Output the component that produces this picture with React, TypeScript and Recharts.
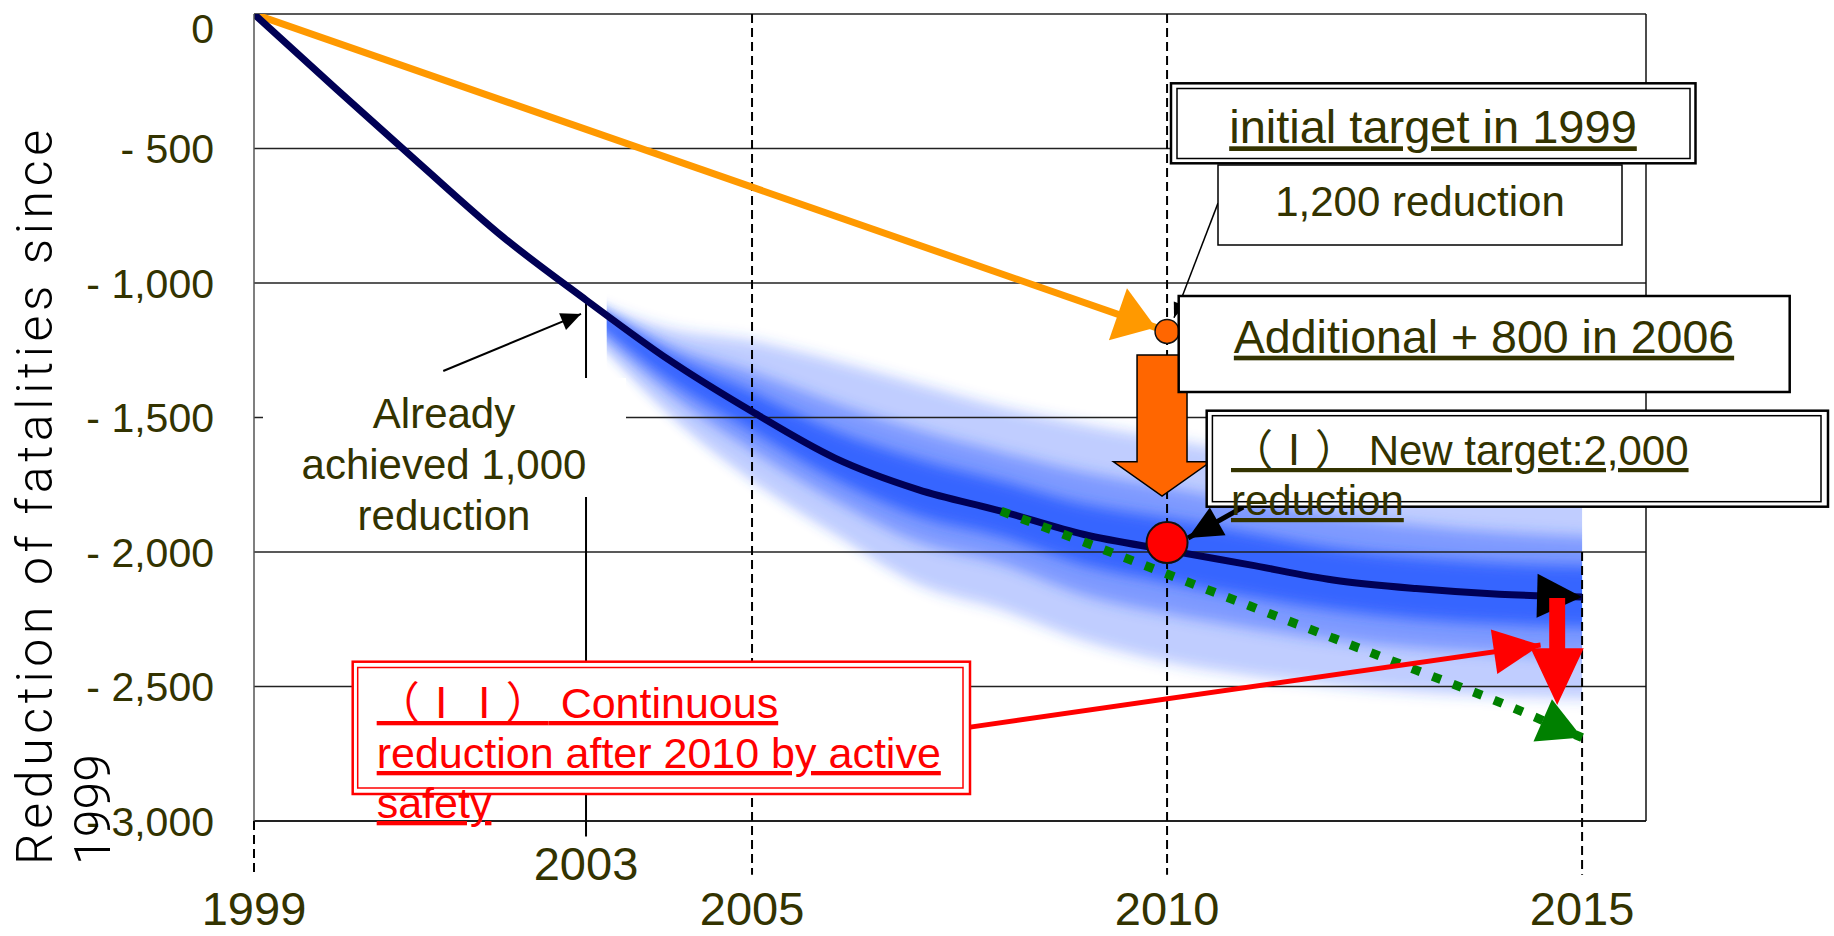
import React from 'react';
import {
  ComposedChart,
  Line,
  Area,
  XAxis,
  YAxis,
  CartesianGrid,
  ReferenceLine,
  ReferenceDot,
  ReferenceArea,
} from 'recharts';

// ---------------- data ----------------
const xDomain: [number, number] = [1999, 2015.77];
const yDomain: [number, number] = [-3000, 0];

const yTicks = [0, -500, -1000, -1500, -2000, -2500, -3000];
const yTickLabels = ['0', '- 500', '- 1,000', '- 1,500', '- 2,000', '- 2,500', '- 3,000'];

const xTicks = [1999, 2003, 2005, 2010, 2015];
const xTickLabels = ['1999', '2003', '2005', '2010', '2015'];

// actual / projected reduction (navy curve)
const actualYears = [1999, 2000, 2001, 2002, 2003, 2004, 2005, 2006, 2007, 2008, 2009, 2010, 2011, 2012, 2013, 2014, 2015];
const actualReduction = [0, -281, -558, -829, -1063, -1286, -1478, -1651, -1768, -1848, -1935, -1993, -2048, -2104, -2136, -2157, -2167];

// initial target set in 1999 (orange)
const initialTargetYears = [1999, 2010];
const initialTargetReduction = [0, -1180];

// trend with active safety (green dotted)
const trendYears = [2008, 2009, 2010, 2011, 2012, 2013, 2014, 2015];
const trendReduction = [-1848, -1963, -2082, -2201, -2320, -2439, -2558, -2690];

// uncertainty band (blue haze), three intensity contours
const bandYears = [2003.25, 2004, 2005, 2006, 2007, 2008, 2009, 2010, 2011, 2012, 2013, 2014, 2015];
const bandOuterTop = [-1095, -1170, -1215, -1290, -1375, -1460, -1525, -1580, -1635, -1680, -1715, -1745, -1765];
const bandOuterBottom = [-1260, -1490, -1735, -1935, -2120, -2215, -2330, -2410, -2460, -2495, -2520, -2535, -2545];
const bandMidTop = [-1110, -1230, -1330, -1445, -1546, -1628, -1703, -1758, -1814, -1862, -1900, -1926, -1941];
const bandMidBottom = [-1212, -1413, -1625, -1810, -1963, -2045, -2160, -2230, -2283, -2327, -2357, -2375, -2387];
const bandCoreTop = [-1120, -1265, -1405, -1550, -1654, -1736, -1822, -1874, -1929, -1985, -2019, -2041, -2052];
const bandCoreBottom = [-1175, -1360, -1550, -1730, -1866, -1944, -2048, -2112, -2167, -2216, -2249, -2268, -2279];

// target points
const initialTargetPoint = { x: 2010, y: -1180 };
const newTargetPoint = { x: 2010, y: -1965 };

// annotation arrows (tail -> tip)
const alreadyPointerX = [2001.28, 2002.94];
const alreadyPointerY = [-1327, -1115];
const pointer1200X = [2010.614, 2010.084];
const pointer1200Y = [-703, -1129];
const reductionPointerX = [2010.916, 2010.253];
const reductionPointerY = [-1833, -1948];
const continuousArrowX = [2007.627, 2014.5];
const continuousArrowY = [-2651, -2346];

// block arrows
const additionalArrow = { x1: 2009.355, x2: 2010.524, y1: -1268, y2: -1792 };
const continuousDownArrow = { x1: 2014.38, x2: 2015.02, y1: -2171, y2: -2569 };

// dashed year guide lines
const dashedYears = [1999, 2005, 2010, 2015];
const dashedFrom = [-3000, 0, 0, -2000];
const dashedTo = -3200;

// "already achieved" guide at 2003
const achievedYear = 2003;
const achievedFrom = -1070;
const achievedTo = -3058;

// ---------------- helpers ----------------
const toXY = (xs: number[], ys: number[]) => xs.map((x, i) => ({ x, y: ys[i] }));
const toBand = (xs: number[], lo: number[], hi: number[]) =>
  xs.map((x, i) => ({ x, range: [lo[i], hi[i]] }));

const actualData = toXY(actualYears, actualReduction);
const initialTargetData = toXY(initialTargetYears, initialTargetReduction);
const trendData = toXY(trendYears, trendReduction);
const bandOuter = toBand(bandYears, bandOuterBottom, bandOuterTop);
const bandMid = toBand(bandYears, bandMidBottom, bandMidTop);
const bandCore = toBand(bandYears, bandCoreBottom, bandCoreTop);
const alreadyPointer = toXY(alreadyPointerX, alreadyPointerY);
const pointer1200 = toXY(pointer1200X, pointer1200Y);
const reductionPointer = toXY(reductionPointerX, reductionPointerY);
const continuousArrow = toXY(continuousArrowX, continuousArrowY);

const FONT = "'Liberation Sans', Arial, Helvetica, sans-serif";
const CJK = "'Noto Sans CJK JP', 'Noto Sans CJK SC', sans-serif";
const OLIVE = '#333300';
const BAND = '#2a5cff';

const YTick = (props: any) => {
  const { x, y, payload } = props;
  const i = yTicks.indexOf(payload.value);
  const label = i >= 0 ? yTickLabels[i] : String(payload.value);
  const extra = payload.value === 0 ? 14 : 0;
  return (
    <text x={x} y={y + extra} dy="0.36em" textAnchor="end" fontFamily={FONT} fontSize={41} fill={OLIVE}>
      {label}
    </text>
  );
};

const XTick = (props: any) => {
  const { x, y, payload } = props;
  const i = xTicks.indexOf(payload.value);
  const label = i >= 0 ? xTickLabels[i] : String(payload.value);
  const off = payload.value === 2003 ? 59 : 104;
  return (
    <text x={x} y={y + off} textAnchor="middle" fontFamily={FONT} fontSize={47} fill={OLIVE}>
      {label}
    </text>
  );
};

const DownBlockArrow = (props: any) => {
  const { x, y, width, height, fill, stroke, strokeWidth, shaftRatio, headRatio } = props;
  const cx = x + width / 2;
  const sw = (width * shaftRatio) / 2;
  const hy = y + height * (1 - headRatio);
  const d = `M${cx - sw},${y} L${cx + sw},${y} L${cx + sw},${hy} L${x + width},${hy} L${cx},${y + height} L${x},${hy} L${cx - sw},${hy} Z`;
  return <path d={d} fill={fill} stroke={stroke} strokeWidth={strokeWidth} strokeLinejoin="miter" />;
};

const Markers = () => (
  <svg width={0} height={0} style={{ position: 'absolute' }}>
    <defs>
      <filter id="bandBlur" x="-2%" y="-30%" width="104%" height="160%">
        <feGaussianBlur stdDeviation="0 7" />
      </filter>
      <marker id="mOrange" markerUnits="userSpaceOnUse" markerWidth={60} markerHeight={60} refX={52} refY={27.5} orient="auto" overflow="visible">
        <path d="M0,0 L40,27.5 L0,55 Z" fill="#ff9900" />
      </marker>
      <marker id="mNavy" markerUnits="userSpaceOnUse" markerWidth={50} markerHeight={50} refX={45} refY={22} orient="auto" overflow="visible">
        <path d="M0,0 L45,22 L0,44 Z" fill="#000" />
      </marker>
      <marker id="mGreen" markerUnits="userSpaceOnUse" markerWidth={50} markerHeight={50} refX={43} refY={23} orient="auto" overflow="visible">
        <path d="M0,0 L43,23 L0,46 Z" fill="#008000" />
      </marker>
      <marker id="mRed" markerUnits="userSpaceOnUse" markerWidth={50} markerHeight={50} refX={47} refY={22.5} orient="auto" overflow="visible">
        <path d="M0,0 L47,22.5 L0,45 Z" fill="#ff0000" />
      </marker>
      <marker id="mBlackSmall" markerUnits="userSpaceOnUse" markerWidth={20} markerHeight={20} refX={15} refY={6} orient="auto" overflow="visible">
        <path d="M0,0 L15,6 L0,12 Z" fill="#000" />
      </marker>
      <marker id="mBlackMid" markerUnits="userSpaceOnUse" markerWidth={24} markerHeight={24} refX={20} refY={9} orient="auto" overflow="visible">
        <path d="M0,0 L20,9 L0,18 Z" fill="#000" />
      </marker>
      <marker id="mBlackBig" markerUnits="userSpaceOnUse" markerWidth={40} markerHeight={40} refX={34} refY={16} orient="auto" overflow="visible">
        <path d="M0,0 L34,16 L0,32 Z" fill="#000" />
      </marker>
    </defs>
  </svg>
);

const Overlay = () => (
  <svg width={1834} height={936} style={{ position: 'absolute', left: 0, top: 0, pointerEvents: 'none' }}>
    {/* y axis title */}
    <text transform="translate(52,865) rotate(-90)" fontFamily="Roboto, 'DejaVu Sans', sans-serif" fontWeight={300} fontSize={50} fill="#000" textLength={735} lengthAdjust="spacing">
      Reduction of fatalities since
    </text>
    <text transform="translate(110,865) rotate(-90)" fontFamily="Roboto, 'DejaVu Sans', sans-serif" fontWeight={300} fontSize={50} fill="#000">
      1999
    </text>

    {/* Already achieved */}
    <rect x={263} y={378} width={363} height={119} fill="#fff" />
    <g fontFamily={FONT} fontSize={42} fill={OLIVE} textAnchor="middle">
      <text x={444} y={428}>Already</text>
      <text x={444} y={479}>achieved 1,000</text>
      <text x={444} y={530}>reduction</text>
    </g>

    {/* 1,200 reduction */}
    <rect x={1218} y={165} width={404} height={80} fill="#fff" stroke="#000" strokeWidth={1.5} />
    <text x={1420} y={216} textAnchor="middle" fontFamily={FONT} fontSize={42} fill={OLIVE}>1,200 reduction</text>

    {/* initial target in 1999 */}
    <rect x={1171} y={83.3} width={524.5} height={80} fill="#fff" stroke="#000" strokeWidth={2.5} />
    <rect x={1177} y={88.5} width={513} height={70} fill="none" stroke="#000" strokeWidth={1.5} />
    <text x={1433} y={143.3} textAnchor="middle" fontFamily={FONT} fontSize={47} fill={OLIVE} style={{ textDecoration: 'underline' }}>
      initial target in 1999
    </text>

    {/* Additional + 800 */}
    <rect x={1178.7} y={296} width={611} height={96} fill="#fff" stroke="#000" strokeWidth={2.5} />
    <text x={1484} y={352.7} textAnchor="middle" fontFamily={FONT} fontSize={46.5} fill={OLIVE} style={{ textDecoration: 'underline' }}>
      Additional + 800 in 2006
    </text>

    {/* (I) New target */}
    <rect x={1206.7} y={410.7} width={621.3} height={96} fill="#fff" stroke="#000" strokeWidth={2.5} />
    <rect x={1212.4} y={415.7} width={608.6} height={86} fill="none" stroke="#000" strokeWidth={1.5} />
    <g fontFamily={FONT} fontSize={42} fill={OLIVE} style={{ textDecoration: 'underline' }}>
      <text x={1231} y={465}>
        <tspan fontFamily={CJK}>（Ⅰ）</tspan> New target:2,000
      </text>
      <text x={1231} y={515}>reduction</text>
    </g>

    {/* (II) Continuous reduction */}
    <rect x={352.7} y={661.7} width={617.3} height={132.3} fill="#fff" stroke="#ff0000" strokeWidth={2.5} />
    <rect x={357.7} y={667.5} width={605.3} height={120.5} fill="none" stroke="#ff0000" strokeWidth={1.5} />
    <g fontFamily={FONT} fontSize={43} fill="#ff0000" style={{ textDecoration: 'underline' }}>
      <text x={376.7} y={718}>
        <tspan fontFamily={CJK}>（ⅠⅠ）</tspan> Continuous
      </text>
      <text x={376.7} y={768}>reduction after 2010 by active</text>
      <text x={376.7} y={818}>safety</text>
    </g>
  </svg>
);

export default function App() {
  return (
    <div style={{ position: 'absolute', left: 0, top: 0, width: 1834, height: 936, background: '#fff' }}>
      <Markers />
      <ComposedChart width={1834} height={936} margin={{ top: 14, right: 188, bottom: 85, left: 194 }}>
        <XAxis
          type="number"
          dataKey="x"
          domain={xDomain}
          ticks={xTicks}
          interval={0}
          allowDataOverflow
          tickLine={false}
          tickSize={0}
          tickMargin={0}
          height={30}
          axisLine={{ stroke: '#111', strokeWidth: 1.5 }}
          tick={(p: any) => <XTick {...p} />}
        />
        <YAxis
          type="number"
          domain={yDomain}
          ticks={yTicks}
          interval={0}
          allowDataOverflow
          tickLine={false}
          tickSize={0}
          tickMargin={40}
          width={60}
          axisLine={{ stroke: '#555', strokeWidth: 1.5 }}
          tick={(p: any) => <YTick {...p} />}
        />

        <Area data={bandOuter} dataKey="range" type="monotone" stroke="none" fill={BAND} fillOpacity={0.3} filter="url(#bandBlur)" isAnimationActive={false} dot={false} activeDot={false} zIndex={10} />
        <Area data={bandMid} dataKey="range" type="monotone" stroke="none" fill={BAND} fillOpacity={0.45} filter="url(#bandBlur)" isAnimationActive={false} dot={false} activeDot={false} zIndex={11} />
        <Area data={bandCore} dataKey="range" type="monotone" stroke="none" fill={BAND} fillOpacity={0.85} filter="url(#bandBlur)" isAnimationActive={false} dot={false} activeDot={false} zIndex={12} />

        <CartesianGrid vertical={false} stroke="#222" strokeWidth={1.3} zIndex={20} />

        <ReferenceLine x={xDomain[1]} stroke="#111" strokeWidth={1.5} ifOverflow="visible" zIndex={21} />
        {dashedYears.map((yr, i) => (
          <ReferenceLine
            key={yr}
            segment={[{ x: yr, y: dashedFrom[i] }, { x: yr, y: dashedTo }]}
            stroke="#000"
            strokeWidth={2}
            strokeDasharray="9 5"
            ifOverflow="visible"
            zIndex={22}
          />
        ))}
        <ReferenceLine
          segment={[{ x: achievedYear, y: achievedFrom }, { x: achievedYear, y: achievedTo }]}
          stroke="#000"
          strokeWidth={2}
          ifOverflow="visible"
          zIndex={22}
        />

        <Line data={initialTargetData} dataKey="y" type="linear" stroke="#ff9900" strokeWidth={7} dot={false} activeDot={false} isAnimationActive={false} markerEnd="url(#mOrange)" zIndex={30} />
        <Line data={actualData} dataKey="y" type="monotone" stroke="#000055" strokeWidth={7} dot={false} activeDot={false} isAnimationActive={false} markerEnd="url(#mNavy)" zIndex={31} />
        <Line data={trendData} dataKey="y" type="monotone" stroke="#008000" strokeWidth={9} strokeDasharray="9 13" dot={false} activeDot={false} isAnimationActive={false} markerEnd="url(#mGreen)" zIndex={32} />
        <Line data={continuousArrow} dataKey="y" type="linear" stroke="#ff0000" strokeWidth={5} dot={false} activeDot={false} isAnimationActive={false} markerEnd="url(#mRed)" zIndex={33} />

        <ReferenceArea
          x1={additionalArrow.x1}
          x2={additionalArrow.x2}
          y1={additionalArrow.y1}
          y2={additionalArrow.y2}
          ifOverflow="visible"
          zIndex={40}
          shape={(p: any) => <DownBlockArrow {...p} shaftRatio={0.515} headRatio={0.243} fill="#ff6600" stroke="#000" strokeWidth={1.5} />}
        />
        <ReferenceArea
          x1={continuousDownArrow.x1}
          x2={continuousDownArrow.x2}
          y1={continuousDownArrow.y1}
          y2={continuousDownArrow.y2}
          ifOverflow="visible"
          zIndex={41}
          shape={(p: any) => <DownBlockArrow {...p} shaftRatio={0.3} headRatio={0.53} fill="#ff0000" stroke="none" strokeWidth={0} />}
        />

        <ReferenceDot x={initialTargetPoint.x} y={initialTargetPoint.y} r={12} fill="#ff6600" stroke="#111" strokeWidth={1.5} ifOverflow="visible" zIndex={50} />
        <ReferenceDot x={newTargetPoint.x} y={newTargetPoint.y} r={20.5} fill="#ff0000" stroke="#111" strokeWidth={2} ifOverflow="visible" zIndex={51} />

        <Line data={alreadyPointer} dataKey="y" type="linear" stroke="#000" strokeWidth={2} dot={false} activeDot={false} isAnimationActive={false} markerEnd="url(#mBlackMid)" zIndex={60} />
        <Line data={pointer1200} dataKey="y" type="linear" stroke="#000" strokeWidth={1.5} dot={false} activeDot={false} isAnimationActive={false} markerEnd="url(#mBlackSmall)" zIndex={61} />
        <Line data={reductionPointer} dataKey="y" type="linear" stroke="#000" strokeWidth={5} dot={false} activeDot={false} isAnimationActive={false} markerEnd="url(#mBlackBig)" zIndex={62} />
      </ComposedChart>
      <Overlay />
    </div>
  );
}
